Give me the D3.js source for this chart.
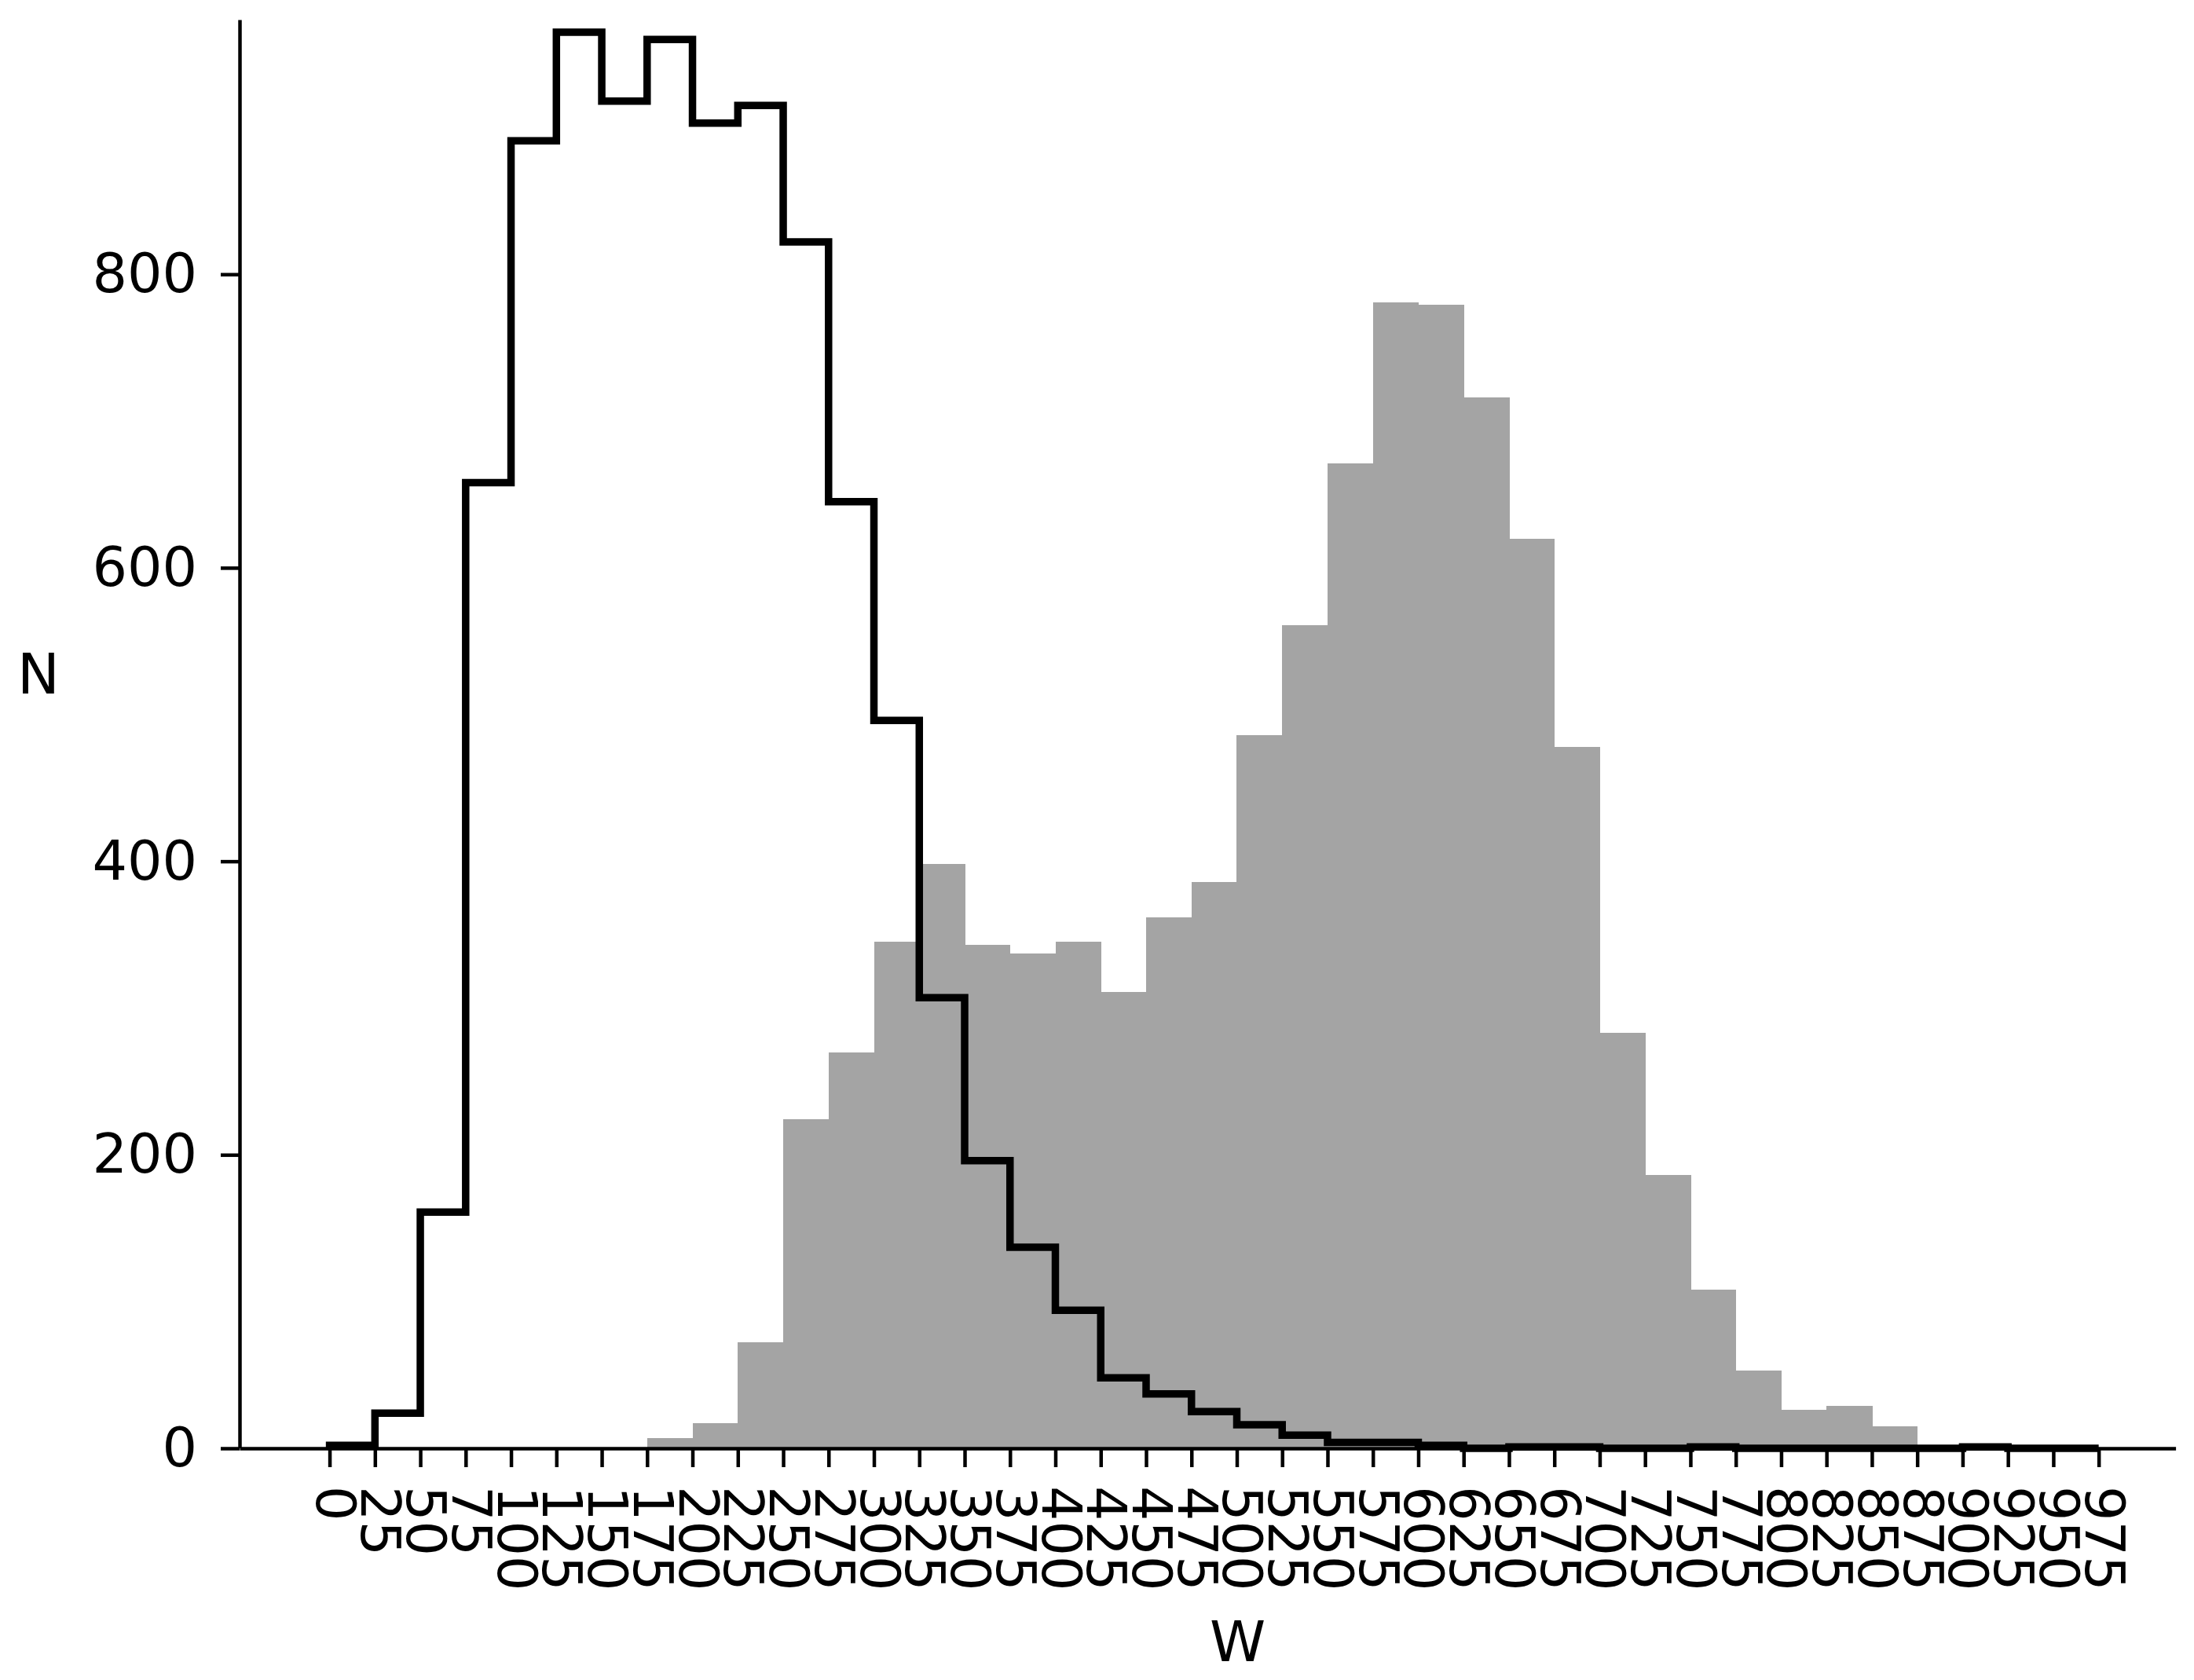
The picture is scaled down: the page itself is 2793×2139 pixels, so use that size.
<!DOCTYPE html>
<html>
<head>
<meta charset="utf-8">
<script src="https://cdn.jsdelivr.net/npm/d3@7"></script>
<style>
  html, body { margin: 0; padding: 0; background: #ffffff; }
  svg { display: block; }
</style>
</head>
<body>
<svg id="chart" width="2793" height="2139"></svg>
<script>
// ---- data ----
const binEdges = [0,25,50,75,100,125,150,175,200,225,250,275,300,325,350,375,400,425,450,475,
                  500,525,550,575,600,625,650,675,700,725,750,775,800,825,850,875,900,925,950,975];
const xTickLabels = ["0","25","50","75","100","125","150","175","200","225","250","275","300","325","350","375","400","425","450","475",
                     "500","525","550","575","600","625","650","675","700","725","750","775","800","825","850","875","900","925","950","975"];
const yTicks = [0, 200, 400, 600, 800];

// grey filled histogram (counts per bin, bins between consecutive edges)
const greyCounts = [0,0,0,0,0,0,0,7,17,72,224,270,345,398,343,337,345,311,362,386,
                    486,561,671,781,779,716,620,478,283,186,108,53,26,29,15,0,0,0,0];
// black step histogram
const blackCounts = [2,24,161,658,891,965,918,960,903,915,822,645,496,307,196,137,94,48,37,25,
                     16,9,4,4,2,0,1,1,0,0,1,0,0,0,0,0,1,0,0];

const xLabel = "W";
const yLabel = "N";

// ---- layout ----
const svg = d3.select("#chart");
const X0 = 305, X1 = 2769.6, Y0 = 1844, Y1 = 25.4;
const FONT = "'DejaVu Sans', 'Liberation Sans', sans-serif";

const x = d3.scaleLinear().domain([-49.6, 1017.4]).range([X0, X1]);
const y = d3.scaleLinear().domain([0, 973.3]).range([Y0, Y1]);

// grey bars
const bins = greyCounts.map((v, i) => ({x0: binEdges[i], x1: binEdges[i + 1], v}));
svg.append("g")
  .attr("shape-rendering", "crispEdges")
  .selectAll("rect")
  .data(bins)
  .join("rect")
  .attr("x", d => x(d.x0))
  .attr("width", d => x(d.x1) - x(d.x0) + 0.6)
  .attr("y", d => y(d.v))
  .attr("height", d => y(0) - y(d.v))
  .attr("fill", "#a4a4a4");

// black step outline
const pts = [[binEdges[0], 0]];
blackCounts.forEach((v, i) => {
  pts.push([binEdges[i], v]);
  pts.push([binEdges[i + 1], v]);
});
pts.push([binEdges[binEdges.length - 1], 0]);
svg.append("path")
  .attr("d", d3.line().x(d => x(d[0])).y(d => y(d[1]))(pts))
  .attr("fill", "none")
  .attr("stroke", "#000")
  .attr("stroke-width", 9.5)
  .attr("stroke-linejoin", "miter");

// axes
const xAxis = d3.axisBottom(x)
  .tickValues(binEdges)
  .tickFormat((d, i) => xTickLabels[i])
  .tickSize(24)
  .tickSizeOuter(0);
const gx = svg.append("g").attr("transform", `translate(0,${Y0})`).call(xAxis);
gx.attr("font-family", null).attr("font-size", null);
gx.select(".domain").attr("stroke", "#000").attr("stroke-width", 4.5);
gx.selectAll(".tick line").attr("stroke", "#000").attr("stroke-width", 4.5);
gx.selectAll(".tick text")
  .attr("y", 0)
  .attr("x", 48)
  .attr("dy", "0.25em")
  .attr("transform", "rotate(90)")
  .style("text-anchor", "start")
  .style("font-family", FONT)
  .style("font-size", "70px")
  .attr("fill", "#000");

const yAxis = d3.axisLeft(y)
  .tickValues(yTicks)
  .tickSize(24)
  .tickPadding(30)
  .tickSizeOuter(0);
const gy = svg.append("g").attr("transform", `translate(${X0},0)`).call(yAxis);
gy.attr("font-family", null).attr("font-size", null);
gy.select(".domain").attr("stroke", "#000").attr("stroke-width", 4.5)
  .attr("d", `M0.5,${Y0}V${Y1}`);
gy.selectAll(".tick line").attr("stroke", "#000").attr("stroke-width", 4.5);
gy.selectAll(".tick text")
  .style("font-family", FONT)
  .style("font-size", "70px")
  .attr("fill", "#000");

// axis labels
svg.append("text")
  .attr("x", 1575.5).attr("y", 2115)
  .attr("text-anchor", "middle")
  .style("font-family", FONT).style("font-size", "72px")
  .text(xLabel);
svg.append("text")
  .attr("x", 49).attr("y", 883)
  .attr("text-anchor", "middle")
  .style("font-family", FONT).style("font-size", "72px")
  .text(yLabel);
</script>
</body>
</html>
